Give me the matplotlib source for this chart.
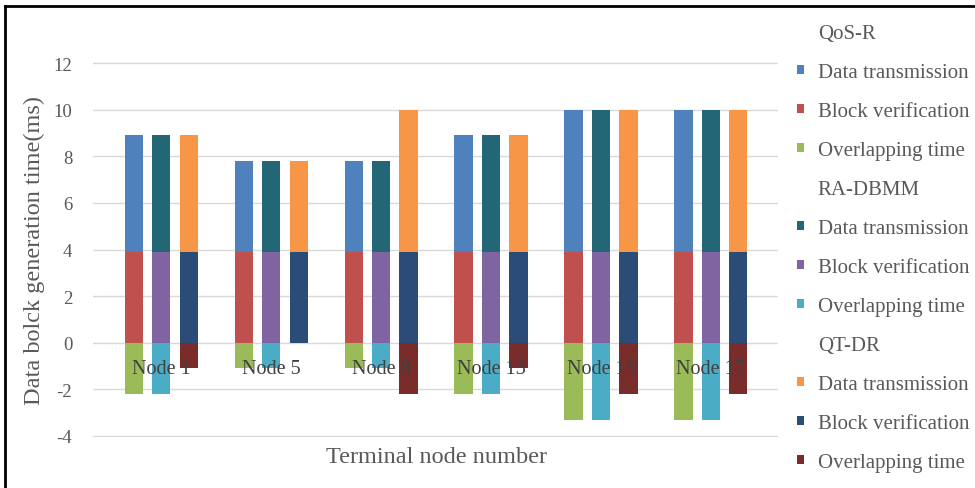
import matplotlib.pyplot as plt
from matplotlib.patches import Patch
from matplotlib.lines import Line2D
import numpy as np

plt.rcParams["axes.unicode_minus"] = False

nodes = ["Node 1", "Node 5", "Node 8", "Node 13", "Node 15", "Node 17"]
methods = ["QoS-R", "RA-DBMM", "QT-DR"]

# block verification (bottom segment) for every bar
block_qos = [3.9, 3.9, 3.9, 3.9, 3.9, 3.9]
block_ra = [3.9, 3.9, 3.9, 3.9, 3.9, 3.9]
block_qt = [3.9, 3.9, 3.9, 3.9, 3.9, 3.9]
# data transmission (stacked on top of block verification)
trans_qos = [5.0, 3.9, 3.9, 5.0, 6.1, 6.1]
trans_ra = [5.0, 3.9, 3.9, 5.0, 6.1, 6.1]
trans_qt = [5.0, 3.9, 6.1, 5.0, 6.1, 6.1]
# overlapping time (negative)
overlap_qos = [-2.2, -1.1, -1.1, -2.2, -3.3, -3.3]
overlap_ra = [-2.2, -1.1, -1.1, -2.2, -3.3, -3.3]
overlap_qt = [-1.1, 0.0, -2.2, -1.1, -2.2, -2.2]

colors = {
    "QoS-R": ["#4F81BD", "#C0504D", "#9BBB59"],
    "RA-DBMM": ["#236675", "#8064A2", "#4BACC6"],
    "QT-DR": ["#F79646", "#2B4C76", "#7A2C2B"],
}

serif = ["Liberation Serif", "DejaVu Serif"]
grey = "#595959"

fig = plt.figure(figsize=(9.75, 4.89), dpi=100)
ax = fig.add_axes([93 / 975, 1 - 438 / 489, (778 - 93) / 975, (438 - 63) / 489])

x = np.arange(len(nodes))
w = 0.165
offsets = [-0.25, 0.0, 0.25]
series = [
    ("QoS-R", block_qos, trans_qos, overlap_qos),
    ("RA-DBMM", block_ra, trans_ra, overlap_ra),
    ("QT-DR", block_qt, trans_qt, overlap_qt),
]
for (name, blk, trn, ovl), off in zip(series, offsets):
    c_trn, c_blk, c_ovl = colors[name]
    ax.bar(x + off, blk, w, color=c_blk, zorder=3)
    ax.bar(x + off, trn, w, bottom=blk, color=c_trn, zorder=3)
    ax.bar(x + off, ovl, w, color=c_ovl, zorder=3)

for xi, lab in zip(x, nodes):
    ax.text(xi, -1.1, lab, ha="center", va="center", fontsize=14.5,
            family=serif, color="#404040", zorder=4)

ax.set_xlim(-0.62, 5.61)
ax.set_ylim(-4.05, 12.05)
ax.set_yticks(range(-4, 13, 2))
ax.set_xticks([])
ax.grid(axis="y", color="#D9D9D9", linewidth=1, zorder=0)
for s in ax.spines.values():
    s.set_visible(False)
ax.tick_params(axis="y", length=0, pad=15, labelsize=13.5, labelcolor=grey)
for t in ax.get_yticklabels():
    t.set_family(serif)

ax.set_ylabel("Data bolck generation time(ms)", fontsize=17.5, family=serif,
              color=grey, labelpad=6)
fig.text(437 / 975, 1 - 458 / 489, "Terminal node number", ha="center",
         va="center", fontsize=17.5, family=serif, color=grey)

# legend with group headers
handles, labels = [], []
for name in methods:
    handles.append(Patch(facecolor="none", edgecolor="none"))
    labels.append(name)
    c_trn, c_blk, c_ovl = colors[name]
    for c, lab in zip([c_trn, c_blk, c_ovl],
                      ["Data transmission", "Block verification", "Overlapping time"]):
        handles.append(Patch(facecolor=c, edgecolor="none"))
        labels.append(lab)
leg = fig.legend(handles, labels, loc="upper left",
                 bbox_to_anchor=(797 / 975, 1 - 25 / 489),
                 frameon=False, prop={"family": serif, "size": 15},
                 labelspacing=0.96, handlelength=0.33, handleheight=0.33,
                 handletextpad=0.67, borderpad=0, borderaxespad=0)
for t in leg.get_texts():
    t.set_color(grey)

# outer frame of the figure
fig.add_artist(Line2D([5 / 975, 5 / 975], [0, 1 - 7 / 489], color="black",
                      linewidth=2, transform=fig.transFigure))
fig.add_artist(Line2D([5 / 975, 1], [1 - 7 / 489, 1 - 7 / 489], color="black",
                      linewidth=2, transform=fig.transFigure))

fig.savefig("out.png", dpi=100)
